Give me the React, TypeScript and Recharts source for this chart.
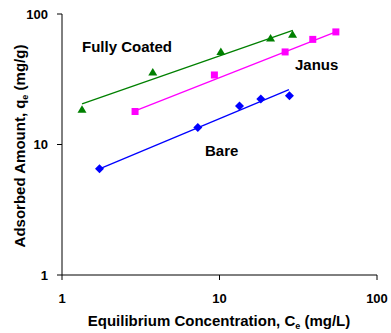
import { ComposedChart, Line, Scatter, XAxis, YAxis } from "recharts";

// Freundlich isotherm data, log-log axes
const fullyCoatedC = [1.34, 3.77, 10.2, 21.1, 29.1];
const fullyCoatedQ = [18.6, 35.9, 51.7, 65.6, 69.9];
const janusC = [2.91, 9.28, 26.1, 39.1, 54.8];
const janusQ = [17.9, 34.1, 51.2, 63.9, 72.9];
const bareC = [1.73, 7.28, 13.4, 18.3, 27.8];
const bareQ = [6.51, 13.5, 19.7, 22.3, 23.6];

// fitted lines (end points)
const fullyCoatedFitC = [1.34, 29.2];
const fullyCoatedFitQ = [20.5, 75.0];
const janusFitC = [2.91, 54.8];
const janusFitQ = [18.1, 72.9];
const bareFitC = [1.73, 27.6];
const bareFitQ = [6.51, 26.3];

const axisTicks = [1, 10, 100];

const toPoints = (xs: number[], ys: number[]) => xs.map((x, i) => ({ x, y: ys[i] }));

const font = "'Liberation Sans', Arial, sans-serif";

const Triangle = (props: any) => {
  const { cx, cy } = props;
  return (
    <polygon
      points={`${cx},${cy - 4} ${cx + 4.5},${cy + 3.5} ${cx - 4.5},${cy + 3.5}`}
      fill="#008000"
    />
  );
};

const Square = (props: any) => {
  const { cx, cy } = props;
  return <rect x={cx - 3.5} y={cy - 3.5} width={7} height={7} fill="#FF00FF" />;
};

const Diamond = (props: any) => {
  const { cx, cy } = props;
  return (
    <polygon
      points={`${cx},${cy - 4.5} ${cx + 4.5},${cy} ${cx},${cy + 4.5} ${cx - 4.5},${cy}`}
      fill="#0000FF"
    />
  );
};

const tickStyle = { fill: "#000", fontSize: 13, fontWeight: "bold", fontFamily: font };

export default function App() {
  return (
    <div style={{ position: "absolute", left: 0, top: 0, width: 391, height: 333, background: "#fff" }}>
      <ComposedChart
        width={391}
        height={333}
        margin={{ top: 14, right: 14, bottom: 0, left: 0 }}
      >
        <XAxis
          type="number"
          dataKey="x"
          scale="log"
          domain={[1, 100]}
          ticks={axisTicks}
          allowDataOverflow
          height={58}
          stroke="#000"
          tickSize={5}
          tickMargin={14}
          tick={tickStyle}
        />
        <YAxis
          type="number"
          dataKey="y"
          scale="log"
          domain={[1, 100]}
          ticks={axisTicks}
          allowDataOverflow
          width={62}
          stroke="#000"
          tickSize={5}
          tickMargin={9}
          tick={tickStyle}
        />
        <Line
          data={toPoints(fullyCoatedFitC, fullyCoatedFitQ)}
          dataKey="y"
          stroke="#008000"
          strokeWidth={1.3}
          dot={false}
          isAnimationActive={false}
        />
        <Line
          data={toPoints(janusFitC, janusFitQ)}
          dataKey="y"
          stroke="#FF00FF"
          strokeWidth={1.3}
          dot={false}
          isAnimationActive={false}
        />
        <Line
          data={toPoints(bareFitC, bareFitQ)}
          dataKey="y"
          stroke="#0000FF"
          strokeWidth={1.3}
          dot={false}
          isAnimationActive={false}
        />
        <Scatter
          data={toPoints(fullyCoatedC, fullyCoatedQ)}
          shape={Triangle}
          isAnimationActive={false}
        />
        <Scatter
          data={toPoints(janusC, janusQ)}
          shape={Square}
          isAnimationActive={false}
        />
        <Scatter
          data={toPoints(bareC, bareQ)}
          shape={Diamond}
          isAnimationActive={false}
        />
      </ComposedChart>
      <svg
        width={391}
        height={333}
        style={{ position: "absolute", left: 0, top: 0, pointerEvents: "none" }}
        fontFamily={font}
        fontWeight="bold"
        fontSize={15}
        fill="#000"
      >
        <text x={82} y={52}>Fully Coated</text>
        <text x={295} y={70}>Janus</text>
        <text x={205} y={156}>Bare</text>
        <text x={219} y={326} textAnchor="middle">
          Equilibrium Concentration, C<tspan fontSize={9} dy={3}>e</tspan>
          <tspan dy={-3}> (mg/L)</tspan>
        </text>
        <text transform="translate(25,146) rotate(-90)" textAnchor="middle">
          Adsorbed Amount, q<tspan fontSize={9} dy={3}>e</tspan>
          <tspan dy={-3}> (mg/g)</tspan>
        </text>
      </svg>
    </div>
  );
}
